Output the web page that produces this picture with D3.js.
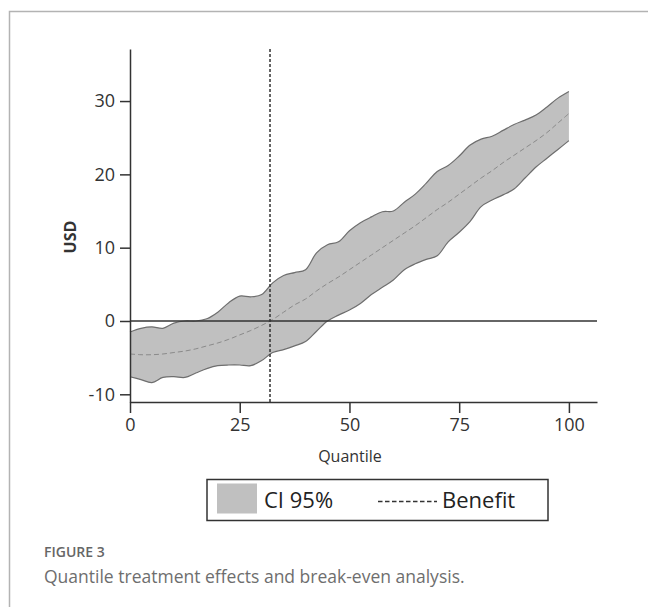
<!DOCTYPE html>
<html><head><meta charset="utf-8">
<script src="https://cdn.jsdelivr.net/npm/d3@7"></script>
<style>
html,body{margin:0;padding:0;background:#fff;}
svg{display:block;}
</style></head>
<body>
<script>
const quantiles = [0,2.5,5,7.5,10,12.5,15,17.5,20,22.5,25,27.5,30,32.5,35,37.5,40,42.5,45,47.5,50,52.5,55,57.5,60,62.5,65,67.5,70,72.5,75,77.5,80,82.5,85,87.5,90,92.5,95,97.5,100];
const ciUpper = [-1.5,-1.0,-0.8,-1.0,-0.3,0.0,0.0,0.3,1.2,2.5,3.4,3.3,3.6,5.2,6.2,6.6,7.0,9.3,10.4,10.8,12.3,13.4,14.2,14.9,15.0,16.2,17.3,18.8,20.4,21.2,22.5,24.0,24.8,25.2,26.0,26.8,27.4,28.1,29.2,30.4,31.3];
const ciLower = [-7.6,-8.0,-8.4,-7.7,-7.6,-7.7,-7.1,-6.5,-6.1,-6.0,-6.0,-6.1,-5.4,-4.3,-3.9,-3.4,-2.8,-1.4,0.0,0.8,1.5,2.4,3.6,4.6,5.6,7.0,7.8,8.4,8.9,10.8,12.1,13.6,15.6,16.5,17.2,18.0,19.5,21.0,22.2,23.4,24.6];
const benefit = [-4.5,-4.6,-4.6,-4.5,-4.3,-4.1,-3.8,-3.4,-3.0,-2.5,-1.9,-1.3,-0.6,0.2,1.2,2.2,3.0,4.1,5.1,6.0,7.0,8.0,9.0,10.0,11.0,12.0,13.0,14.1,15.2,16.2,17.3,18.4,19.5,20.5,21.6,22.6,23.6,24.6,25.7,27.0,28.3];
const breakEven = 31.9;
const xTicks = [0,25,50,75,100];
const yTicks = [-10,0,10,20,30];
const legendLabels = ["CI 95%","Benefit"];
const captionTitle = "FIGURE 3";
const captionText = "Quantile treatment effects and break-even analysis.";

const W = 648, H = 607;
const svg = d3.select("body").append("svg").attr("width", W).attr("height", H);
const font = "'Open Sans', sans-serif";

// frame
svg.append("path").attr("d", `M9.5,${H} L9.5,11.5 L${W},11.5`)
  .attr("fill","none").attr("stroke","#b3b3b3").attr("stroke-width",1.5);

const x = d3.scaleLinear().domain([0,106.4]).range([130,597]);
const y = d3.scaleLinear().domain([-11.05,37.1]).range([402,49]);

const data = quantiles.map((q,i)=>({q, lo:ciLower[i], hi:ciUpper[i], b:benefit[i]}));

// CI band
svg.append("path").datum(data)
  .attr("d", d3.area().x(d=>x(d.q)).y0(d=>y(d.lo)).y1(d=>y(d.hi)).curve(d3.curveCatmullRom))
  .attr("fill","#c0c0c0").attr("stroke","none");
svg.append("path").datum(data)
  .attr("d", d3.line().x(d=>x(d.q)).y(d=>y(d.hi)).curve(d3.curveCatmullRom))
  .attr("fill","none").attr("stroke","#6e6e6e").attr("stroke-width",1.2);
svg.append("path").datum(data)
  .attr("d", d3.line().x(d=>x(d.q)).y(d=>y(d.lo)).curve(d3.curveCatmullRom))
  .attr("fill","none").attr("stroke","#6e6e6e").attr("stroke-width",1.2);

// benefit line
svg.append("path").datum(data)
  .attr("d", d3.line().x(d=>x(d.q)).y(d=>y(d.b)).curve(d3.curveCatmullRom))
  .attr("fill","none").attr("stroke","#8a8a8a").attr("stroke-width",1).attr("stroke-dasharray","5,3");

// zero line
svg.append("line").attr("x1",x(0)).attr("x2",597).attr("y1",y(0)).attr("y2",y(0))
  .attr("stroke","#333").attr("stroke-width",1.5);

// break-even vertical
svg.append("line").attr("x1",x(breakEven)).attr("x2",x(breakEven)).attr("y1",49).attr("y2",402)
  .attr("stroke","#333").attr("stroke-width",1.5).attr("stroke-dasharray","3,2");

// axes
const fmt = d => String(d);
const xAxis = svg.append("g").attr("transform","translate(0,402)")
  .call(d3.axisBottom(x).tickValues(xTicks).tickFormat(fmt).tickSize(11).tickPadding(5).tickSizeOuter(0));
const yAxis = svg.append("g").attr("transform","translate(130,0)")
  .call(d3.axisLeft(y).tickValues(yTicks).tickFormat(fmt).tickSize(10).tickPadding(5).tickSizeOuter(0));
[xAxis,yAxis].forEach(g=>{
  g.select(".domain").attr("stroke","#333").attr("stroke-width",1.5);
  g.selectAll(".tick line").attr("stroke","#333").attr("stroke-width",1.5);
  g.selectAll(".tick text").attr("fill","#333").style("font-family",font).style("font-size","18px");
});

// axis titles
svg.append("text").attr("x",350).attr("y",462).attr("text-anchor","middle")
  .style("font-family",font).style("font-size","16px").attr("fill","#333").text("Quantile");
svg.append("text").attr("transform","translate(76,237) rotate(-90)").attr("text-anchor","middle")
  .style("font-family",font).style("font-size","16px").style("font-weight","bold").attr("fill","#333").text("USD");

// legend
svg.append("rect").attr("x",207).attr("y",479.5).attr("width",341).attr("height",41)
  .attr("fill","#fff").attr("stroke","#333").attr("stroke-width",1.5);
svg.append("rect").attr("x",217).attr("y",483.5).attr("width",40).attr("height",30).attr("fill","#c0c0c0");
svg.append("text").attr("x",264).attr("y",507.5).style("font-family",font).style("font-size","22px")
  .attr("fill","#222").text(legendLabels[0]);
svg.append("line").attr("x1",378).attr("x2",437).attr("y1",501.5).attr("y2",501.5)
  .attr("stroke","#333").attr("stroke-width",1.5).attr("stroke-dasharray","4.5,2.5");
svg.append("text").attr("x",442).attr("y",507.5).style("font-family",font).style("font-size","22px")
  .attr("fill","#222").text(legendLabels[1]);

// caption
svg.append("text").attr("x",44).attr("y",557).style("font-family",font).style("font-size","14px")
  .style("font-weight","600").attr("fill","#666").text(captionTitle);
svg.append("text").attr("x",44).attr("y",583).style("font-family",font).style("font-size","17.5px")
  .attr("fill","#6e6e6e").text(captionText);
</script>
</body></html>
